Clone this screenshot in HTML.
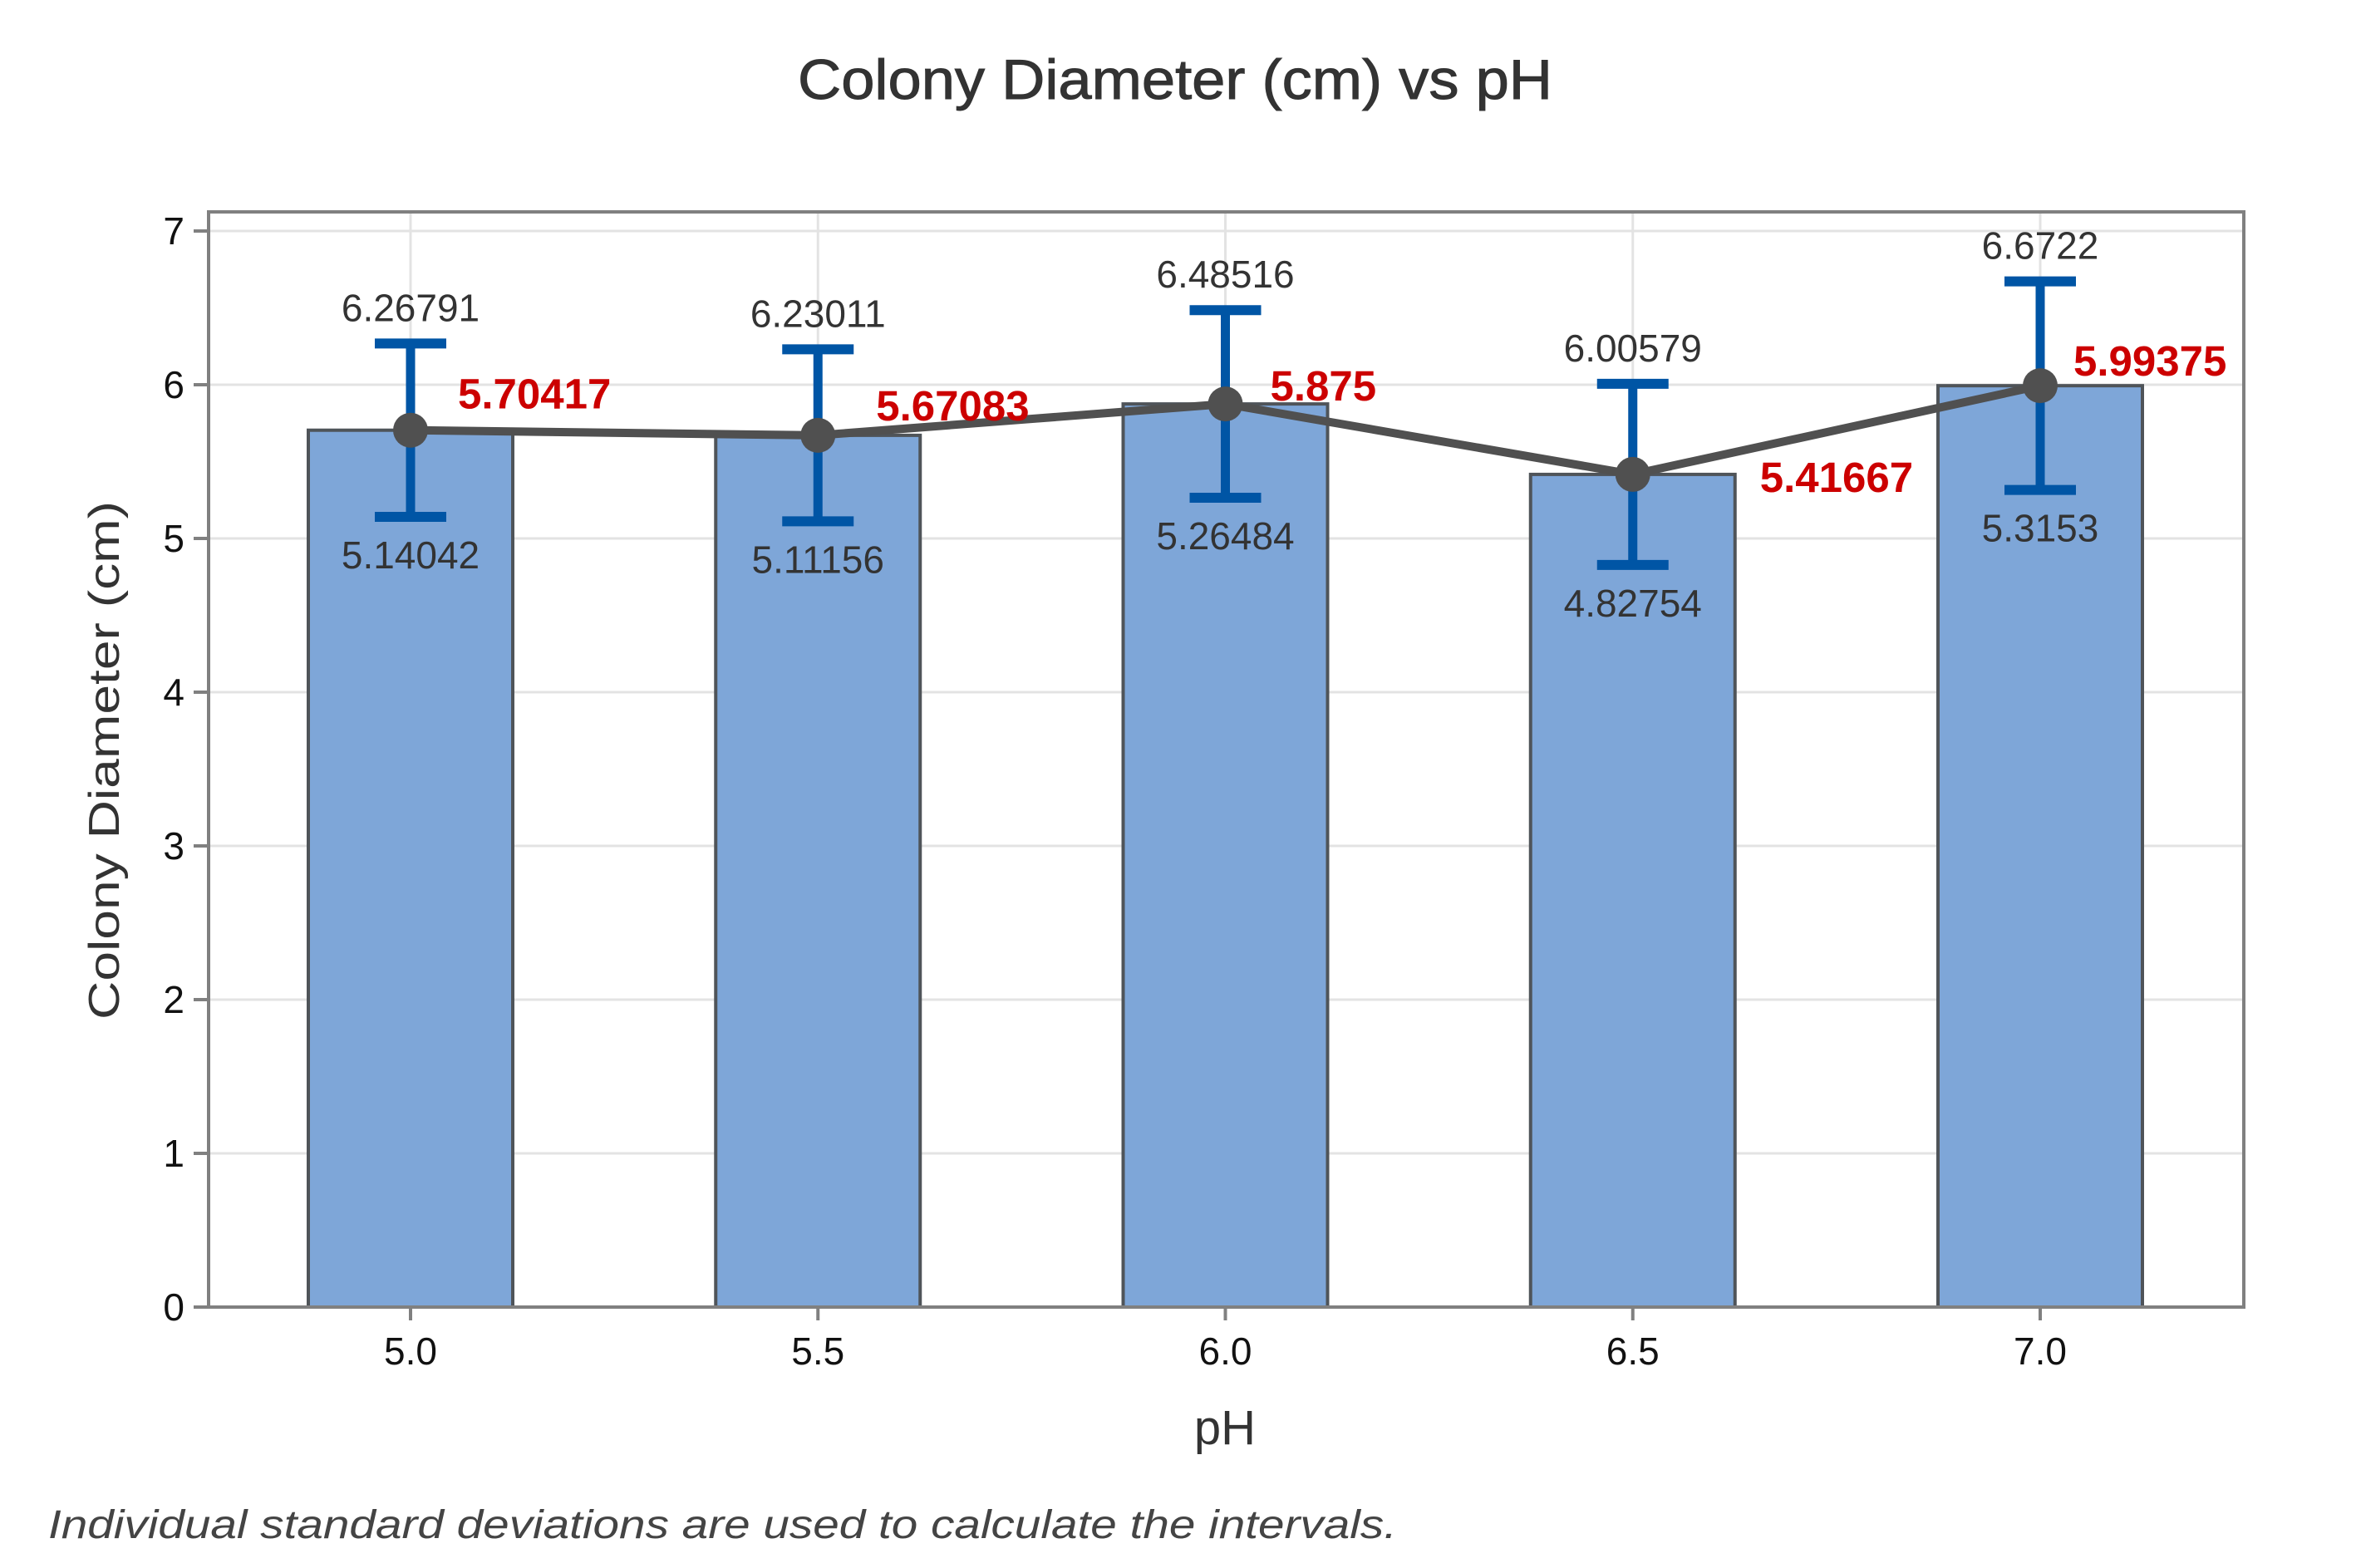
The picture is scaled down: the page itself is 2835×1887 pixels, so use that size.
<!DOCTYPE html>
<html><head><meta charset="utf-8"><style>
html,body{margin:0;padding:0;background:#fff;}
svg{display:block;font-family:"Liberation Sans",sans-serif;}
</style></head><body>
<svg id="chart" width="2835" height="1887" viewBox="0 0 2835 1887">
<rect x="0" y="0" width="2835" height="1887" fill="#fff"/>
<text x="1414" y="119" text-anchor="middle" font-size="68" fill="#333" stroke="#333" stroke-width="1" textLength="908" lengthAdjust="spacingAndGlyphs">Colony Diameter (cm) vs pH</text>
<g id="grid"></g>
<g id="bars"></g>
<g id="errs"></g>
<g id="line"></g>
<g id="labels"></g>
<g id="axes"></g>
<text transform="translate(143,915) rotate(-90)" text-anchor="middle" font-size="52" fill="#333" textLength="624" lengthAdjust="spacingAndGlyphs">Colony Diameter (cm)</text>
<text x="1474" y="1738" text-anchor="middle" font-size="58" fill="#333">pH</text>
<text x="58" y="1851" font-size="48" font-style="italic" fill="#444" textLength="1623" lengthAdjust="spacingAndGlyphs">Individual standard deviations are used to calculate the intervals.</text>
</svg>
<script>
const categories = ["5.0","5.5","6.0","6.5","7.0"];
const means = [5.70417, 5.67083, 5.875, 5.41667, 5.99375];
const upper = [6.26791, 6.23011, 6.48516, 6.00579, 6.6722];
const lower = [5.14042, 5.11156, 5.26484, 4.82754, 5.3153];
const meanLabels = ["5.70417","5.67083","5.875","5.41667","5.99375"];
const upperLabels = ["6.26791","6.23011","6.48516","6.00579","6.6722"];
const lowerLabels = ["5.14042","5.11156","5.26484","4.82754","5.3153"];
const yTicks = [0,1,2,3,4,5,6,7];
// layout offsets for mean labels (pixels, not data)
const meanLabelDx = [57,70,54,153,40];
const meanLabelDy = [-26,-18,-4,21,-12];

const NS="http://www.w3.org/2000/svg";
const L=251,R=2700,T=255,B=1573;
const X0=494, STEP=490.25;
function xs(i){return X0+i*STEP;}
function ys(v){return B-v*185;}
function mk(tag,attrs,parent){const e=document.createElementNS(NS,tag);for(const k in attrs)e.setAttribute(k,attrs[k]);parent.appendChild(e);return e;}
const g=id=>document.getElementById(id);

yTicks.forEach(t=>{
  const l=mk('line',{x1:L,x2:R,y1:ys(t),y2:ys(t),stroke:'#e3e3e3','stroke-width':3},g('grid'));
  
  
  const tk=mk('line',{x1:233,x2:L,y1:ys(t),y2:ys(t),stroke:'#808080','stroke-width':4},g('axes'));
  
  
  const tx=mk('text',{x:222,y:ys(t)+16,'text-anchor':'end','font-size':46,fill:'#111'},g('axes'));
  tx.textContent=String(t);
  
  
});
categories.forEach((c,i)=>{
  const l=mk('line',{x1:xs(i),x2:xs(i),y1:T,y2:B,stroke:'#e3e3e3','stroke-width':3},g('grid'));
  
  
  const tk=mk('line',{x1:xs(i),x2:xs(i),y1:B,y2:B+16,stroke:'#808080','stroke-width':4},g('axes'));
  
  
  const tx=mk('text',{x:xs(i),y:1642,'text-anchor':'middle','font-size':46,fill:'#111'},g('axes'));
  tx.textContent=c;
  
  
});
const fr=mk('rect',{x:L,y:T,width:R-L,height:B-T,fill:'none',stroke:'#808080','stroke-width':4},g('axes'));



means.forEach((m,i)=>{
  const b=mk('rect',{x:xs(i)-123,y:ys(m),width:246,height:B-ys(m),fill:'#7ea6d8',stroke:'#4f5459','stroke-width':4},g('bars'));
  
  
});
means.forEach((m,i)=>{
  const x=xs(i);
  const s=mk('line',{x1:x,x2:x,y1:ys(upper[i]),y2:ys(lower[i]),stroke:'#0055a5','stroke-width':11},g('errs'));
  
  
  const c1=mk('line',{x1:x-43,x2:x+43,y1:ys(upper[i]),y2:ys(upper[i]),stroke:'#0055a5','stroke-width':12},g('errs'));
  
  
  const c2=mk('line',{x1:x-43,x2:x+43,y1:ys(lower[i]),y2:ys(lower[i]),stroke:'#0055a5','stroke-width':12},g('errs'));
  
  
});
const pl=mk('polyline',{points:means.map((m,i)=>xs(i)+','+ys(m)).join(' '),fill:'none',stroke:'#505050','stroke-width':10,'stroke-linejoin':'round'},g('line'));


means.forEach((m,i)=>{
  const d=mk('circle',{cx:xs(i),cy:ys(m),r:21,fill:'#505050'},g('line'));
  
  
});
means.forEach((m,i)=>{
  const x=xs(i);
  const u=mk('text',{x:x,y:ys(upper[i])-27,'text-anchor':'middle','font-size':46,fill:'#333'},g('labels'));
  u.textContent=upperLabels[i];
  
  
  const lo=mk('text',{x:x,y:ys(lower[i])+62,'text-anchor':'middle','font-size':46,fill:'#333'},g('labels'));
  lo.textContent=lowerLabels[i];
  
  
  const ml=mk('text',{x:x+meanLabelDx[i],y:ys(m)+meanLabelDy[i],'font-size':51,'font-weight':'bold',fill:'#cc0000'},g('labels'));
  ml.textContent=meanLabels[i];
  
  
});
</script>
</body></html>
